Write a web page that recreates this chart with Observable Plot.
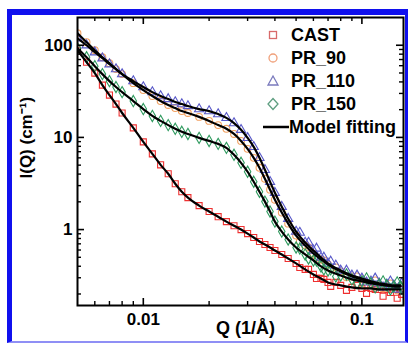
<!DOCTYPE html>
<html><head><meta charset="utf-8">
<script src="https://cdn.jsdelivr.net/npm/d3@7"></script>
<script src="https://cdn.jsdelivr.net/npm/@observablehq/plot@0.6"></script>
<style>
html,body{margin:0;padding:0;background:#fff;}
#wrap{position:relative;width:408px;height:343px;overflow:hidden;font-family:"Liberation Sans",Arial,sans-serif;font-weight:bold;}
#chart{position:absolute;left:0;top:0;}
#border{position:absolute;left:7px;top:9px;width:401px;height:334px;box-sizing:border-box;border-left:5px solid #1010ee;border-top:6px solid #1010ee;border-right:3px solid #1010ee;border-bottom:2px solid #8f8ff5;}
.lg{position:absolute;height:22px;line-height:22px;font-size:18px;color:#000;white-space:nowrap;}
</style>
</head><body>
<div id="wrap"><div id="chart"></div><div id="border"></div><div id="legend"></div></div>
<script>
// Scattering vector Q (1/Å) and intensity I(Q) (cm^-1)
const Q = [0.005, 0.0055, 0.006, 0.0065, 0.007, 0.0075, 0.008, 0.009, 0.01, 0.011, 0.012, 0.013, 0.014, 0.015, 0.016, 0.018, 0.02, 0.022, 0.024, 0.026, 0.028, 0.03, 0.032, 0.034, 0.036, 0.038, 0.04, 0.043, 0.046, 0.05, 0.055, 0.06, 0.065, 0.07, 0.08, 0.09, 0.1, 0.11, 0.12, 0.13, 0.14, 0.15];
const I_CAST = [88.3, 65.5, 49.8, 36.9, 28.8, 23.0, 18.4, 12.7, 8.94, 6.63, 5.04, 4.03, 3.14, 2.57, 2.22, 1.82, 1.57, 1.38, 1.22, 1.10, 1.0, 0.905, 0.820, 0.742, 0.689, 0.639, 0.593, 0.537, 0.486, 0.429, 0.370, 0.326, 0.295, 0.267, 0.248, 0.236, 0.230, 0.230, 0.224, 0.224, 0.224, 0.224];
const I_PR90 = [135, 108, 88.3, 74.1, 63.9, 55.1, 48.6, 38.8, 32.6, 28.1, 24.8, 22.5, 20.8, 19.3, 18.4, 16.7, 15.1, 13.6, 12.4, 10.9, 9.16, 7.51, 6.00, 4.68, 3.56, 2.71, 2.11, 1.53, 1.16, 0.861, 0.671, 0.550, 0.474, 0.418, 0.351, 0.310, 0.288, 0.267, 0.254, 0.248, 0.242, 0.242];
const I_PR110 = [119, 100, 84.0, 72.3, 62.3, 55.1, 48.6, 40.8, 35.2, 31.0, 28.1, 26.1, 24.2, 23.0, 21.9, 20.3, 19.3, 17.9, 16.3, 14.3, 12.1, 9.88, 7.89, 6.00, 4.45, 3.30, 2.51, 1.77, 1.31, 0.951, 0.723, 0.593, 0.498, 0.429, 0.360, 0.318, 0.295, 0.274, 0.261, 0.254, 0.248, 0.248];
const I_PR150 = [92.9, 74.1, 59.3, 48.6, 40.8, 35.2, 31.0, 24.8, 20.3, 17.1, 15.1, 13.6, 12.4, 11.5, 10.9, 9.88, 9.16, 8.51, 7.70, 6.47, 5.30, 4.24, 3.30, 2.57, 2.01, 1.57, 1.22, 0.951, 0.780, 0.639, 0.537, 0.462, 0.398, 0.360, 0.318, 0.288, 0.274, 0.261, 0.254, 0.248, 0.242, 0.242];
// extra noisy high-Q measured points
const Q_tail = [0.052, 0.057, 0.062, 0.067, 0.072, 0.076, 0.085, 0.095, 0.105, 0.115, 0.125, 0.135, 0.145, 0.152];
const T_CAST = [0.388, 0.370, 0.295, 0.288, 0.242, 0.267, 0.219, 0.248, 0.203, 0.224, 0.189, 0.208, 0.180, 0.198];
const T_PR90 = [0.742, 0.639, 0.498, 0.462, 0.379, 0.388, 0.303, 0.310, 0.254, 0.281, 0.230, 0.261, 0.219, 0.248];
const T_PR110 = [0.928, 0.723, 0.623, 0.498, 0.451, 0.408, 0.360, 0.318, 0.267, 0.295, 0.236, 0.274, 0.224, 0.261];
const T_PR150 = [0.623, 0.486, 0.462, 0.370, 0.370, 0.310, 0.326, 0.261, 0.295, 0.236, 0.274, 0.224, 0.267, 0.230];

const seriesNames = ["CAST", "PR_90", "PR_110", "PR_150"];
const seriesSymbols = ["square", "circle", "triangle", "diamond"];
const seriesColors = ["#ee3030", "#f2a060", "#5858c8", "#2e9a5e"];
const legendColors = ["#d86a6a", "#f0a07a", "#7a7abd", "#5e9e80"];
const fitLabel = "Model fitting";

const xMajor = [0.01, 0.1];
const xMinor = [0.006, 0.007, 0.008, 0.009, 0.02, 0.03, 0.04, 0.05, 0.06, 0.07, 0.08, 0.09];
const yMajor = [1, 10, 100];
const yMinor = [0.2, 0.3, 0.4, 0.5, 0.6, 0.7, 0.8, 0.9, 2, 3, 4, 5, 6, 7, 8, 9, 20, 30, 40, 50, 60, 70, 80, 90];
const xLabel = "Q (1/Å)";
const yLabel = "I(Q) (cm⁻¹)";

const mainI = [I_CAST, I_PR90, I_PR110, I_PR150];
const tailI = [T_CAST, T_PR90, T_PR110, T_PR150];
const rows = (qs, is) => qs.map((q, i) => ({Q: q, I: is[i]}));

const W = 408, H = 343, mL = 77, mR = 5, mT = 17, mB = 38;
const fw = W - mL - mR, fh = H - mT - mB;

const marks = [];
seriesNames.forEach((s, k) => {
  const pts = rows(Q, mainI[k]).concat(rows(Q_tail, tailI[k]));
  marks.push(Plot.dot(pts, {x: "Q", y: "I", symbol: seriesSymbols[k], r: 3.4, stroke: seriesColors[k], fill: "none", strokeWidth: 1.1, clip: true}));
});
seriesNames.forEach((s, k) => {
  marks.push(Plot.line(rows(Q, mainI[k]), {x: "Q", y: "I", stroke: "#000", strokeWidth: 2.2, curve: "monotone-x", clip: true}));
});
// inward ticks on all four sides
marks.push(
  Plot.ruleX(xMajor, {x: d => d, insetTop: fh - 7, strokeWidth: 1.6}),
  Plot.ruleX(xMajor, {x: d => d, insetBottom: fh - 7, strokeWidth: 1.6}),
  Plot.ruleX(xMinor, {x: d => d, insetTop: fh - 4, strokeWidth: 1.4}),
  Plot.ruleX(xMinor, {x: d => d, insetBottom: fh - 4, strokeWidth: 1.4}),
  Plot.ruleY(yMajor, {y: d => d, insetRight: fw - 7, strokeWidth: 1.6}),
  Plot.ruleY(yMajor, {y: d => d, insetLeft: fw - 7, strokeWidth: 1.6}),
  Plot.ruleY(yMinor, {y: d => d, insetRight: fw - 4, strokeWidth: 1.4}),
  Plot.ruleY(yMinor, {y: d => d, insetLeft: fw - 4, strokeWidth: 1.4}),
  Plot.frame({stroke: "#000", strokeWidth: 2}),
  Plot.axisX(xMajor, {tickSize: 0, tickPadding: 7, tickFormat: d => String(d), label: null, fontSize: 17, fontWeight: "bold"}),
  Plot.axisY(yMajor, {tickSize: 0, tickPadding: 5, tickFormat: d => String(d), label: null, fontSize: 17, fontWeight: "bold"}),
  Plot.text([xLabel], {text: d => d, frameAnchor: "bottom", dx: 5, dy: 28, fontSize: 18, fontWeight: "bold", letterSpacing: "1.5px"}),
  Plot.text([yLabel], {text: d => d, frameAnchor: "left", rotate: -90, dx: -51, dy: 17, fontSize: 17, fontWeight: "bold"})
);

const chart = Plot.plot({
  width: W, height: H,
  marginLeft: mL, marginRight: mR, marginTop: mT, marginBottom: mB,
  style: {fontFamily: "'Liberation Sans', Arial, sans-serif", background: "transparent", color: "#000"},
  x: {type: "log", domain: [0.005, 0.155]},
  y: {type: "log", domain: [0.15, 200]},
  marks
});
document.getElementById("chart").appendChild(chart);

// legend
const lg = document.getElementById("legend");
const shapes = [
  c => `<rect x="6.5" y="7.5" width="7" height="7" fill="none" stroke="${c}" stroke-width="1.3"/>`,
  c => `<circle cx="10" cy="11" r="4" fill="none" stroke="${c}" stroke-width="1.3"/>`,
  c => `<polygon points="10,6 15,15 5,15" fill="none" stroke="${c}" stroke-width="1.3"/>`,
  c => `<polygon points="10,5.5 15,11 10,16.5 5,11" fill="none" stroke="${c}" stroke-width="1.3"/>`
];
const labels = seriesNames.concat([fitLabel]);
labels.forEach((name, i) => {
  const top = 35 + 23 * i - 11;
  const sym = i < 4 ? shapes[i](legendColors[i]) : `<line x1="0" y1="11" x2="26" y2="11" stroke="#000" stroke-width="2.5"/>`;
  lg.insertAdjacentHTML("beforeend",
    `<svg class="lg" style="left:263px;top:${top}px" width="28" height="22">${sym}</svg>` +
    `<span class="lg" style="left:${i < 4 ? 291 : 289}px;top:${top}px">${name}</span>`);
});
</script>
</body></html>
